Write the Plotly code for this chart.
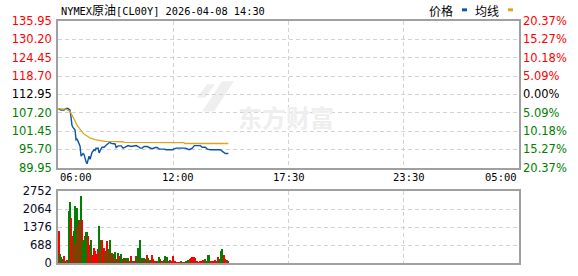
import plotly.graph_objects as go

# ---------------- data ----------------
price_times = ["06:00", "06:09", "06:18", "06:24", "06:30", "06:36", "06:39", "06:42", "06:45", "06:48",
               "06:51", "06:54", "06:57", "07:00", "07:03", "07:06", "07:09", "07:12", "07:15", "07:18",
               "07:21", "07:24", "07:27", "07:30", "07:33", "07:36", "07:39", "07:42", "07:45", "07:48",
               "07:51", "07:54", "07:57", "08:00", "08:03", "08:06", "08:09", "08:12", "08:18", "08:24",
               "08:30", "08:36", "08:39", "08:45", "08:51", "08:54", "09:00", "09:09", "09:15", "09:21",
               "09:30", "09:39", "09:48", "09:54", "10:00", "10:06", "10:12", "10:18", "10:27", "10:33",
               "10:39", "10:45", "10:51", "10:57", "11:03", "11:18", "11:24", "11:42", "11:48", "11:54",
               "12:21", "12:33", "12:42", "12:48", "13:06", "13:12", "13:21", "13:27", "13:36", "13:51",
               "14:06", "14:12", "14:21", "14:30"]
price_values = [108.5, 108.0, 108.0, 108.5, 108.5, 108.0, 105.8, 103.2, 102.6, 102.2,
                101.8, 98.7, 98.9, 98.3, 97.5, 96.7, 93.6, 93.9, 94.4, 94.1,
                92.7, 91.8, 91.2, 93.0, 93.6, 92.6, 94.0, 94.8, 95.2, 95.6,
                95.4, 96.1, 96.0, 96.1, 94.6, 95.6, 95.9, 96.4, 96.4, 97.0,
                97.4, 98.0, 97.6, 97.4, 97.4, 96.3, 96.8, 96.8, 96.1, 96.4,
                96.9, 96.6, 96.9, 96.9, 96.6, 96.1, 96.1, 96.6, 96.6, 96.3,
                96.0, 96.0, 96.3, 96.3, 95.8, 95.8, 95.6, 95.6, 95.8, 96.1,
                96.1, 95.6, 96.1, 96.9, 96.9, 96.4, 96.4, 95.8, 95.6, 95.6,
                95.6, 95.1, 94.4, 94.4]

avg_times = ["06:00", "06:24", "06:36", "06:45", "06:51", "06:57", "07:06", "07:15", "07:21", "07:30",
             "07:36", "07:51", "08:06", "08:21", "09:15", "09:18", "12:17", "12:20", "14:30"]
avg_values = [108.5, 108.3, 107.6, 106.0, 104.6, 103.3, 101.9, 100.8, 100.3, 99.7,
              99.3, 98.8, 98.4, 98.2, 98.1, 97.9, 97.8, 97.55, 97.55]

vol_values = [1228, 335, 210, 150, 60, 270, 90, 60, 120, 80,
              2000, 2320, 1720, 1040, 920, 1240, 2160, 710, 2090, 1410,
              1640, 1640, 2570, 1640, 830, 890, 1040, 1200, 1170, 1020,
              650, 670, 890, 300, 210, 580, 460, 360, 300, 520,
              1410, 460, 870, 870, 270, 580, 400, 460, 830, 520,
              460, 890, 270, 370, 335, 300, 420, 150, 120, 370,
              270, 150, 335, 150, 120, 180, 150, 180, 110, 180,
              50, 90, 270, 90, 50, 90, 50, 270, 210, 580,
              180, 890, 180, 180, 120, 180, 120, 150, 300, 180,
              120, 90, 120, 300, 150, 50, 40, 40, 90, 50,
              210, 150, 50, 40, 90, 110, 250, 120, 210, 50,
              50, 110, 50, 40, 260, 40, 40, 30, 30, 30,
              30, 30, 50, 30, 30, 30, 30, 50, 80, 110,
              120, 150, 180, 210, 210, 210, 180, 50, 40, 30,
              30, 40, 40, 30, 110, 40, 150, 40, 50, 300,
              300, 90, 90, 40, 40, 40, 110, 40, 50, 210,
              150, 110, 450, 550, 300, 300, 150, 120, 120, 80]
vol_dirs = list("rgggrrrgrg" "ggrrrggrgr" "grgrgggggr" "rrgrrrrrrr" "grgrrrgrrg"
                "rggrgrgrrg" "rgggrgrgrg" "grrggrrrgg" "rgggrgrgrg" "grgrrrrrgr"
                "ggrrrggrgr" "rgrrrrrrrr" "rrgrrrrggg" "rgrrrrrgrr" "rrrrrrgrgg"
                "grrrrrrrgr" "grgggrrrgr")
vol_minutes = list(range(3, 3 * len(vol_values) + 1, 3))  # one bar per 3-minute slot

prev_close = 112.95
price_ticks = [89.95, 95.70, 101.45, 107.20, 112.95, 118.70, 124.45, 130.20, 135.95]
pct_labels = ["20.37%", "15.27%", "10.18%", "5.09%", "0.00%", "5.09%", "10.18%", "15.27%", "20.37%"]
vol_ticks = [0, 688, 1376, 2064, 2752]
x_labels = ["06:00", "12:00", "17:30", "23:30", "05:00"]
session_minutes = 1380  # 06:00 -> 05:00 next day

title_text = "NYMEX原油[CL00Y] 2026-04-08 14:30"
legend_names = ["价格", "均线"]

# ---------------- styles ----------------
RED = "#ff0000"
GREEN = "#008000"
BLUE = "#0b55a8"
GOLD = "#dea51c"
GRID = "#d2d2d2"
FRAME = "#a0a0a0"
W, H = 578, 276
ML, MR, MT, MB = 58, 59, 21, 6
PW, PH = W - ML - MR, H - MT - MB


def to_min(t):
    h, m = map(int, t.split(":"))
    v = h * 60 + m - 360
    return v + 1440 if v < 0 else v


def px_x(px):
    return (px - ML) / PW


def px_y(py):
    return (H - MB - py) / PH


def col_for(v):
    if abs(v - prev_close) < 1e-6:
        return "#000000"
    return RED if v > prev_close else GREEN


left_text = [f"<span style='color:{col_for(v)}'>{v:.2f}</span>" for v in price_ticks]
right_text = [f"<span style='color:{col_for(v)}'>{t}</span>" for v, t in zip(price_ticks, pct_labels)]

fig = go.Figure()
fig.add_trace(go.Scatter(x=[to_min(t) for t in price_times], y=price_values, mode="lines",
                         line=dict(color=BLUE, width=1.4), xaxis="x", yaxis="y", hoverinfo="skip"))
fig.add_trace(go.Scatter(x=[to_min(t) for t in avg_times], y=avg_values, mode="lines",
                         line=dict(color=GOLD, width=1.3), xaxis="x", yaxis="y3", hoverinfo="skip"))
fig.add_trace(go.Bar(x=vol_minutes, y=vol_values, width=3.0,
                     marker=dict(color=[RED if d == "r" else GREEN for d in vol_dirs], line=dict(width=0)),
                     xaxis="x2", yaxis="y2", hoverinfo="skip"))

quarters = [session_minutes * k / 4 for k in range(1, 4)]
tick_font = dict(family="DejaVu Sans", size=11.5)
price_dom = [px_y(172), 1.0]
vol_dom = [0.0, px_y(196)]

common_x = dict(range=[0, session_minutes], tickvals=quarters, showticklabels=False, ticks="",
                showgrid=True, gridcolor=GRID, griddash="4px,3px", gridwidth=1,
                showline=True, linecolor=FRAME, linewidth=1.5, mirror=True, zeroline=False, fixedrange=True)
fig.update_layout(
    width=W, height=H, margin=dict(l=ML, r=MR, t=MT, b=MB),
    paper_bgcolor="white", plot_bgcolor="white", showlegend=False, bargap=0,
    xaxis=dict(common_x, anchor="y", domain=[0, 1]),
    xaxis2=dict(common_x, anchor="y2", domain=[0, 1]),
    yaxis=dict(domain=price_dom, range=[price_ticks[0], price_ticks[-1]], tickvals=price_ticks,
               ticktext=left_text, tickfont=tick_font, ticks="", ticklabelstandoff=2,
               showgrid=True, gridcolor=GRID, griddash="4px,3px", gridwidth=1, zeroline=False,
               showline=True, linecolor=FRAME, linewidth=1.5, mirror=True, anchor="x"),
    yaxis3=dict(overlaying="y", side="right", range=[price_ticks[0], price_ticks[-1]], tickvals=price_ticks,
                ticktext=right_text, tickfont=tick_font, ticks="", ticklabelstandoff=3,
                showgrid=False, zeroline=False, showline=False, anchor="x"),
    yaxis2=dict(domain=vol_dom, range=[0, vol_ticks[-1]], tickvals=vol_ticks,
                ticktext=[str(v) for v in vol_ticks], tickfont=dict(tick_font, color="#0a0a28"),
                ticks="", ticklabelstandoff=2, showgrid=True, gridcolor=GRID, griddash="4px,3px",
                gridwidth=1, zeroline=False, showline=True, linecolor=FRAME, linewidth=1.5,
                mirror=True, anchor="x2"),
)

# x-axis time labels between the panels
label_pos = [to_min(t) for t in x_labels]
label_pos[-1] = session_minutes
anchors = ["left", "center", "center", "center", "right"]
for lab, pos, anc in zip(x_labels, label_pos, anchors):
    fig.add_annotation(x=pos, y=px_y(182), xref="x", yref="paper", text=lab, showarrow=False,
                       xanchor=anc, yanchor="middle", font=dict(family="DejaVu Sans Mono", size=10.5, color="#000"))

# title
fig.add_annotation(x=px_x(59), y=px_y(9.5), xref="paper", yref="paper", showarrow=False,
                   xanchor="left", yanchor="middle",
                   text="NYMEX<span style='font-family:Noto Sans CJK SC;font-size:12px'>原油</span>[CL00Y] 2026-04-08 14:30",
                   font=dict(family="DejaVu Sans Mono", size=10.3, color="#000"))

# legend
for name, right_px, sq_px, c in zip(legend_names, [455, 501], [462, 508], [BLUE, GOLD]):
    fig.add_annotation(x=px_x(right_px), y=px_y(10), xref="paper", yref="paper", showarrow=False,
                       xanchor="right", yanchor="middle", text=name,
                       font=dict(family="Noto Sans CJK SC", size=12, color="#000"))
    fig.add_shape(type="rect", xref="paper", yref="paper", x0=px_x(sq_px), x1=px_x(sq_px + 5),
                  y0=px_y(11), y1=px_y(8), fillcolor=c, line=dict(width=0))

# watermark
fig.add_annotation(x=px_x(286), y=px_y(99), xref="paper", yref="paper", showarrow=False,
                   text="<b>东方财富</b>", font=dict(family="Noto Sans CJK SC", size=24, color="#eeeeee"))
fig.add_shape(type="path", xref="paper", yref="paper", layer="below",
              path=f"M {px_x(222)} {px_y(83)} L {px_x(234)} {px_y(83)} L {px_x(214)} {px_y(114)} L {px_x(202)} {px_y(114)} Z",
              fillcolor="#efefef", line=dict(width=0))
fig.add_shape(type="path", xref="paper", yref="paper", layer="below",
              path=f"M {px_x(207)} {px_y(86)} L {px_x(215)} {px_y(86)} L {px_x(205)} {px_y(100)} L {px_x(197)} {px_y(100)} Z",
              fillcolor="#efefef", line=dict(width=0))

fig.write_html("out.html")
